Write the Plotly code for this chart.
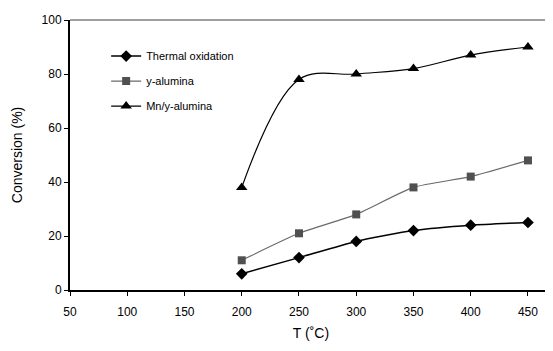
import plotly.graph_objects as go

temps = [200, 250, 300, 350, 400, 450]
thermal = [6, 12, 18, 22, 24, 25]
alumina = [11, 21, 28, 38, 42, 48]
mn_alumina = [38, 78, 80, 82, 87, 90]

x_ticks = [50, 100, 150, 200, 250, 300, 350, 400, 450]
y_ticks = [0, 20, 40, 60, 80, 100]

fig = go.Figure()
fig.add_trace(go.Scatter(x=temps, y=thermal, name="Thermal oxidation", mode="lines+markers",
                         legendgroup="a",
                         line=dict(color="black", width=1.5, shape="spline", smoothing=0.6),
                         marker=dict(symbol="diamond", size=9, color="black")))
fig.add_trace(go.Scatter(x=temps, y=alumina, name="y-alumina", mode="lines+markers",
                         legendgroup="b",
                         line=dict(color="#6a6a6a", width=1.2, shape="spline", smoothing=0.6),
                         marker=dict(symbol="square", size=8, color="#505050")))
fig.add_trace(go.Scatter(x=temps, y=mn_alumina, name="Mn/y-alumina", mode="lines+markers",
                         legendgroup="c",
                         line=dict(color="black", width=1.2, shape="spline", smoothing=1.0),
                         marker=dict(symbol="triangle-up", size=10, color="black")))

fig.update_layout(
    width=545, height=343,
    margin=dict(l=62, r=1, t=12, b=61),
    paper_bgcolor="white", plot_bgcolor="white",
    font=dict(family="Liberation Sans, Arial", size=12, color="black"),
    showlegend=True,
    legend=dict(x=0.075, y=0.92, xanchor="left", yanchor="top",
                bgcolor="rgba(0,0,0,0)", font=dict(size=11), tracegroupgap=6,
                itemwidth=30),
    xaxis=dict(range=[50, 471], tickvals=x_ticks, ticks="outside", ticklen=4,
               tickcolor="black", showgrid=False, zeroline=False, automargin=False,
               showline=True, linecolor="black", linewidth=1.5, ticklabelstandoff=6,
               title=dict(text="T (˚C)", standoff=10)),
    yaxis=dict(range=[0, 100], tickvals=y_ticks, ticks="outside", ticklen=4,
               tickcolor="black", showgrid=False, zeroline=False, automargin=False,
               showline=True, linecolor="black", linewidth=2,
               title=dict(text="Conversion (%)", standoff=16)),
)
fig.add_shape(type="line", xref="paper", yref="paper", x0=0, x1=1, y0=1, y1=1,
              line=dict(color="#808080", width=1.5))

fig.write_html("out.html")
